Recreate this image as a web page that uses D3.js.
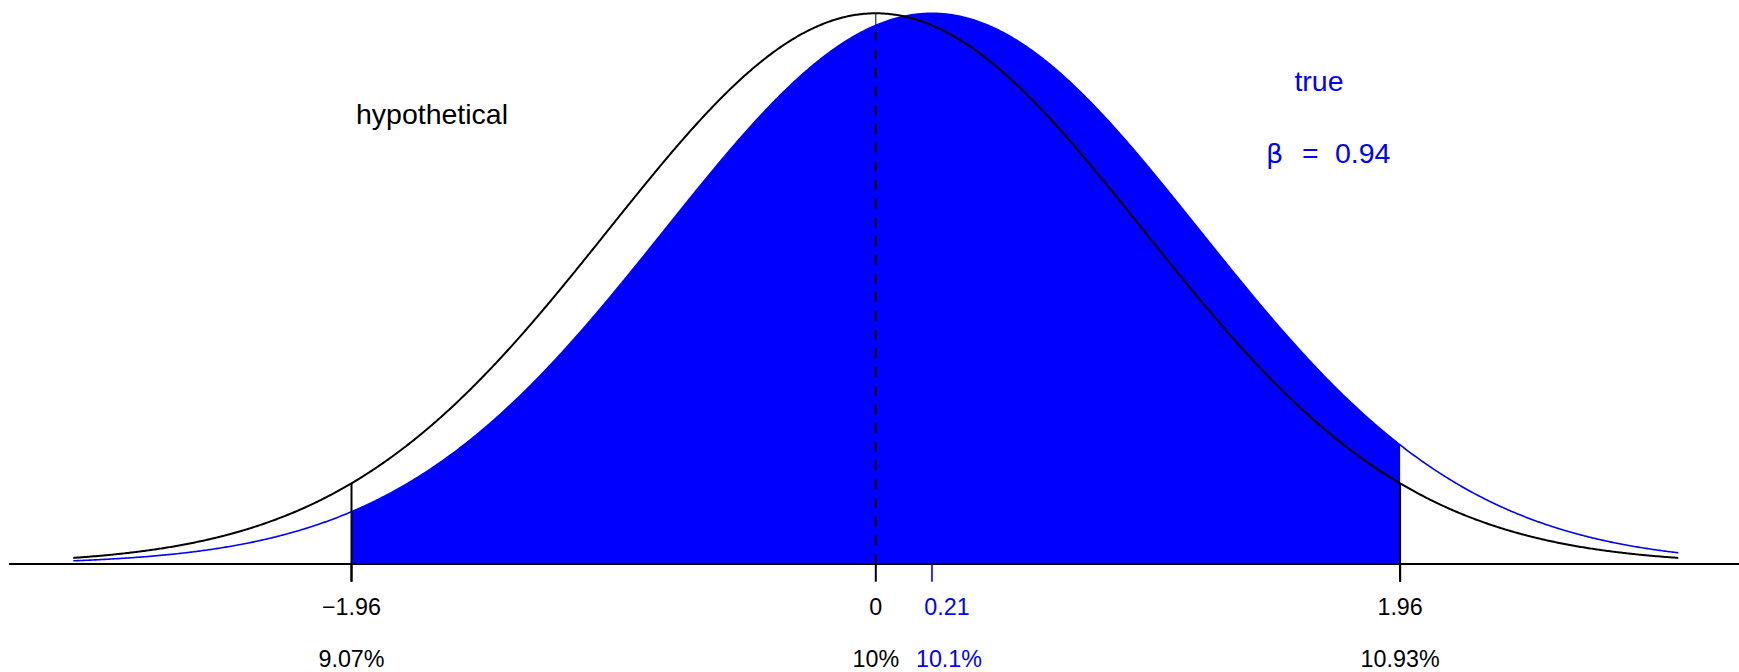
<!DOCTYPE html>
<html><head><meta charset="utf-8">
<script src="https://cdn.jsdelivr.net/npm/d3@7/dist/d3.min.js"></script>
<style>body{margin:0;background:#fff;overflow:hidden}</style>
</head><body>
<script>
// ---- data ----
const distNames = ["hypothetical", "true"];
const distMeans = [0, 0.21];
const distSDs = [1, 1];
const xRange = [-3, 3];
const critValues = [-1.96, 1.96];
const tickValues = [-1.96, 0, 1.96];
const tickLabels = ["\u22121.96", "0", "1.96"];
const pctLabels = ["9.07%", "10%", "10.93%"];
const trueTickValue = 0.21;
const trueTickLabel = "0.21";
const truePctLabel = "10.1%";
const betaValue = 0.94;

// ---- layout ----
const W = 1739, H = 672;
const BLUE = "#0000ff";
const FONT = "'Liberation Sans', Arial, Helvetica, sans-serif";

const pdf = (x, m, s) => Math.exp(-0.5 * ((x - m) / s) ** 2) / (s * Math.sqrt(2 * Math.PI));

const x = d3.scaleLinear().domain(xRange).range([73.3, 1678.3]);
const y = d3.scaleLinear().domain([0, pdf(0, 0, 1)]).range([564, 13.3]);

const svg = d3.select("body").append("svg").attr("width", W).attr("height", H);

const grid = d3.range(xRange[0], xRange[1] + 1e-9, 0.005);
const hyp = grid.map(v => ({x: v, y: pdf(v, distMeans[0], distSDs[0])}));
const tru = grid.map(v => ({x: v, y: pdf(v, distMeans[1], distSDs[1])}));
const line = d3.line().x(d => x(d.x)).y(d => y(d.y));

// thin solid centre line under the fill
svg.append("line")
  .attr("x1", x(0)).attr("x2", x(0))
  .attr("y1", y(0)).attr("y2", y(pdf(0, distMeans[0], distSDs[0])))
  .attr("stroke", "#000").attr("stroke-width", 1);

// true curve
svg.append("path").datum(tru).attr("d", line)
  .attr("fill", "none").attr("stroke", BLUE).attr("stroke-width", 1.6);

// filled area (beta) between critical values under the true curve
const fillData = d3.range(critValues[0], critValues[1] + 1e-9, 0.005)
  .map(v => ({x: v, y: pdf(v, distMeans[1], distSDs[1])}));
fillData.push({x: critValues[1], y: pdf(critValues[1], distMeans[1], distSDs[1])});
const area = d3.area().x(d => x(d.x)).y0(y(0)).y1(d => y(d.y));
svg.append("path").datum(fillData).attr("d", area).attr("fill", BLUE).attr("stroke", "none");

// dashed centre line
svg.append("line")
  .attr("x1", x(0)).attr("x2", x(0))
  .attr("y1", y(0)).attr("y2", y(pdf(0, distMeans[1], distSDs[1])))
  .attr("stroke", "#000").attr("stroke-width", 2).attr("stroke-dasharray", "10,8.7");

// hypothetical curve
svg.append("path").datum(hyp).attr("d", line)
  .attr("fill", "none").attr("stroke", "#000").attr("stroke-width", 2);

// baseline
svg.append("line").attr("x1", 9).attr("x2", W).attr("y1", y(0)).attr("y2", y(0))
  .attr("stroke", "#000").attr("stroke-width", 2);

// critical value lines (from hypothetical curve down through the axis)
svg.selectAll("line.crit").data(critValues).enter().append("line").attr("class", "crit")
  .attr("x1", d => x(d)).attr("x2", d => x(d))
  .attr("y1", d => y(pdf(d, distMeans[0], distSDs[0]))).attr("y2", y(0) + 17.7)
  .attr("stroke", "#000").attr("stroke-width", 2);

// tick marks
svg.selectAll("line.tick").data(tickValues).enter().append("line").attr("class", "tick")
  .attr("x1", d => x(d)).attr("x2", d => x(d))
  .attr("y1", y(0)).attr("y2", y(0) + 17.7)
  .attr("stroke", "#000").attr("stroke-width", 2);
svg.append("line")
  .attr("x1", x(trueTickValue)).attr("x2", x(trueTickValue))
  .attr("y1", y(0)).attr("y2", y(0) + 17.7)
  .attr("stroke", BLUE).attr("stroke-width", 1.6);

// tick labels
const tickFS = 23.3;
const pctBase = 666.5;
svg.selectAll("text.tl").data(tickValues).enter().append("text").attr("class", "tl")
  .attr("x", d => x(d)).attr("y", 615)
  .attr("text-anchor", "middle").attr("font-family", FONT).attr("font-size", tickFS)
  .text((d, i) => tickLabels[i]);
svg.selectAll("text.pl").data(tickValues).enter().append("text").attr("class", "pl")
  .attr("x", d => x(d)).attr("y", pctBase)
  .attr("text-anchor", "middle").attr("font-family", FONT).attr("font-size", tickFS)
  .text((d, i) => pctLabels[i]);
svg.append("text").attr("x", x(trueTickValue) + 15).attr("y", 615)
  .attr("text-anchor", "middle").attr("font-family", FONT).attr("font-size", tickFS)
  .attr("fill", BLUE).text(trueTickLabel);
svg.append("text").attr("x", x(trueTickValue) + 17).attr("y", pctBase)
  .attr("text-anchor", "middle").attr("font-family", FONT).attr("font-size", tickFS)
  .attr("fill", BLUE).text(truePctLabel);

// distribution labels
const labFS = 28.5;
svg.append("text").attr("x", 432).attr("y", 124)
  .attr("text-anchor", "middle").attr("font-family", FONT).attr("font-size", labFS)
  .attr("fill", "#000").text(distNames[0]);
svg.append("text").attr("x", 1319).attr("y", 91)
  .attr("text-anchor", "middle").attr("font-family", FONT).attr("font-size", labFS)
  .attr("fill", BLUE).text(distNames[1]);
const bt = svg.append("text").attr("y", 163).attr("font-family", FONT).attr("font-size", labFS)
  .attr("fill", BLUE);
bt.append("tspan").attr("x", 1266).attr("font-family", "'DejaVu Sans', sans-serif").attr("font-size", labFS * 0.95).text("\u03b2");
bt.append("tspan").attr("x", 1302).text("=");
bt.append("tspan").attr("x", 1335).text(betaValue.toFixed(2));
</script>
</body></html>
